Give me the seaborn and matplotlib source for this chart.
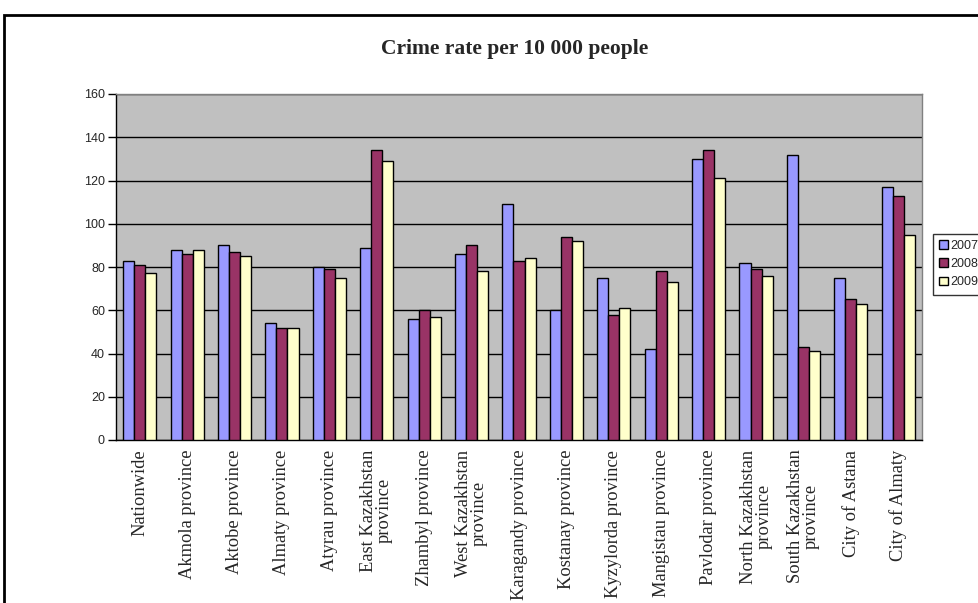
import matplotlib
matplotlib.use("Agg")
import matplotlib.pyplot as plt
import seaborn as sns
import pandas as pd
import numpy as np
from matplotlib.patches import Rectangle

categories = ["Nationwide", "Akmola province", "Aktobe province", "Almaty province",
              "Atyrau province", "East Kazakhstan\nprovince", "Zhambyl province",
              "West Kazakhstan\nprovince", "Karagandy province", "Kostanay province",
              "Kyzylorda province", "Mangistau province", "Pavlodar province",
              "North Kazakhstan\nprovince", "South Kazakhstan\nprovince", "City of Astana",
              "City of Almaty"]
years = ["2007", "2008", "2009"]
v2007 = [83, 88, 90, 54, 80, 89, 56, 86, 109, 60, 75, 42, 130, 82, 132, 75, 117]
v2008 = [81, 86, 87, 52, 79, 134, 60, 90, 83, 94, 58, 78, 134, 79, 43, 65, 113]
v2009 = [77, 88, 85, 52, 75, 129, 57, 78, 84, 92, 61, 73, 121, 76, 41, 63, 95]
y_ticks = [0, 20, 40, 60, 80, 100, 120, 140, 160]
colors = ["#9999FF", "#993366", "#FFFFCC"]

df = pd.DataFrame({
    "region": categories * 3,
    "year": [years[0]] * 17 + [years[1]] * 17 + [years[2]] * 17,
    "rate": v2007 + v2008 + v2009,
})

sns.set_style("white")
fig = plt.figure(figsize=(9.79, 6.03), dpi=100)
ax = fig.add_axes([116 / 979, 1 - 440 / 603, 806 / 979, 346 / 603])

sns.barplot(data=df, x="region", y="rate", hue="year", order=categories,
            hue_order=years, palette=colors, width=0.7, edgecolor="black",
            linewidth=1.0, saturation=1, ax=ax, zorder=3)

ax.set_facecolor("#C0C0C0")
ax.set_ylim(0, 160)
ax.set_xlim(-0.5, len(categories) - 0.5)
ax.set_yticks(y_ticks)
ax.set_yticklabels([str(t) for t in y_ticks], fontsize=9, family="Liberation Sans")
ax.yaxis.grid(True, color="black", linewidth=1.0, zorder=0)
ax.set_axisbelow(True)
ax.set_xlabel("")
ax.set_ylabel("")

ax.set_xticks(np.arange(len(categories)))
ax.set_xticklabels(categories, rotation=90, fontsize=13.3, family="Liberation Serif",
                   linespacing=0.9, va="top", ha="center")
ax.tick_params(axis="x", length=0, pad=7)
ax.set_xticks(np.arange(-0.5, len(categories), 1), minor=True)
ax.tick_params(axis="x", which="minor", length=5, direction="out", color="black", width=1)
ax.tick_params(axis="y", length=6, direction="out", color="black", width=1, pad=2, left=True)

for side in ["left", "bottom"]:
    ax.spines[side].set_color("black")
    ax.spines[side].set_linewidth(1.0)
for side in ["top", "right"]:
    ax.spines[side].set_color("#808080")
    ax.spines[side].set_linewidth(1.0)

fig.text(515 / 979, 1 - 49 / 603, "Crime rate per 10 000 people", ha="center", va="center",
         fontsize=15.5, fontweight="bold", family="Liberation Serif")

handles, labels = ax.get_legend_handles_labels()
ax.legend_.remove()
leg = fig.legend(handles, labels, loc="center left", bbox_to_anchor=(933 / 979, 1 - 264 / 603),
                 frameon=True, fancybox=False, edgecolor="black", prop={"family": "Liberation Sans", "size": 9},
                 handlelength=0.7, handleheight=0.7, handletextpad=0.15, borderpad=0.5,
                 labelspacing=0.5, borderaxespad=0)
leg.get_frame().set_linewidth(1.0)

fig.patches.append(Rectangle((4 / 979, -0.1), 1.2, 1 - 15 / 603 + 0.1, transform=fig.transFigure,
                             fill=False, edgecolor="black", linewidth=2, figure=fig))

fig.savefig("out.png", dpi=100)
